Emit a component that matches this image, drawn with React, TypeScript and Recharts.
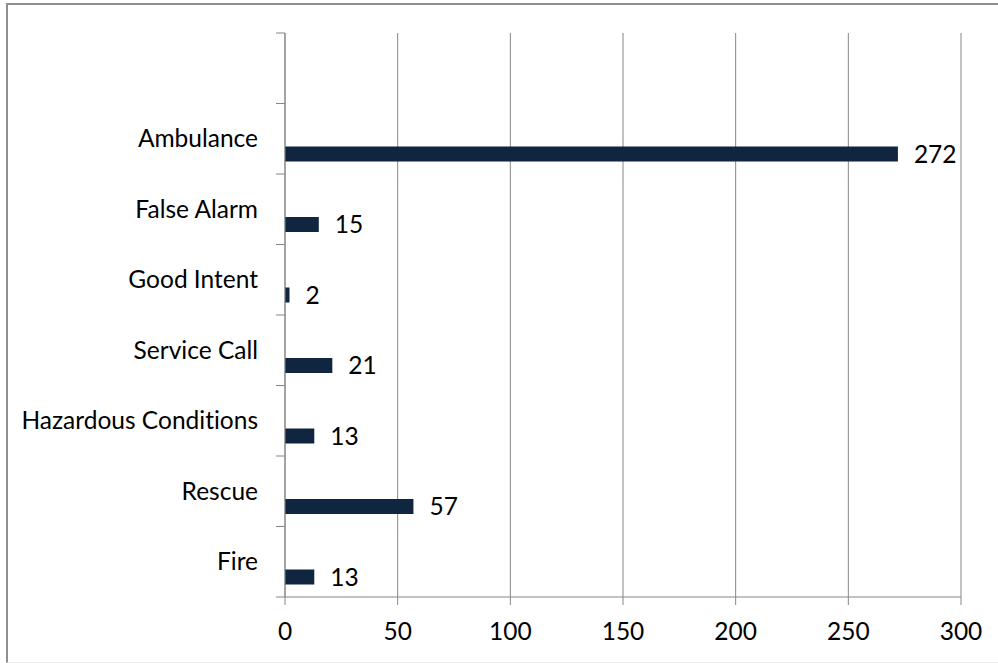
import React from 'react';
import { BarChart, Bar, XAxis, YAxis, CartesianGrid, LabelList } from 'recharts';

// top row is an empty category, as in the original sheet
const categories = [
  '',
  'Ambulance',
  'False Alarm',
  'Good Intent',
  'Service Call',
  'Hazardous Conditions',
  'Rescue',
  'Fire',
];
const incidents = [null, 272, 15, 2, 21, 13, 57, 13];
const valueTicks = [0, 50, 100, 150, 200, 250, 300];

const data = categories.map((name, i) => ({ name, incidents: incidents[i] }));

const WIDTH = 998;
const HEIGHT = 663;
const PLOT_TOP = 33;
const PLOT_BOTTOM = 597;
const AXIS_GRAY = '#868686';
const BAR_COLOR = '#10253f';
const FONT = "Lato, 'Liberation Sans', sans-serif";
const FONT_SIZE = 24.5;
const halfBand = (PLOT_BOTTOM - PLOT_TOP) / categories.length / 2;

// label centred in the band, tick marks on the band edges
const CategoryTick = (props: any) => {
  const { x, y, payload, index } = props;
  const isLast = index === categories.length - 1;
  return (
    <g>
      <line x1={x - 9} x2={x} y1={y - halfBand} y2={y - halfBand} stroke={AXIS_GRAY} />
      {isLast && <line x1={x - 9} x2={x} y1={y + halfBand} y2={y + halfBand} stroke={AXIS_GRAY} />}
      <text
        x={x - 27}
        y={y}
        dy="0.35em"
        textAnchor="end"
        fill="#000"
        fontSize={FONT_SIZE}
        fontFamily={FONT}
      >
        {payload.value}
      </text>
    </g>
  );
};

export default function App() {
  return (
    <div
      style={{
        position: 'absolute',
        left: 0,
        top: 0,
        width: WIDTH,
        height: HEIGHT,
        overflow: 'hidden',
        background: '#fff',
        fontFamily: FONT,
        fontVariantLigatures: 'none',
      }}
    >
      <div
        style={{
          position: 'absolute',
          left: 6,
          top: 3,
          width: 1010,
          height: 660,
          boxSizing: 'border-box',
          borderLeft: '2px solid #8f8f8f',
          borderTop: '2px solid #8f8f8f',
          borderBottom: '1px solid #ececec',
        }}
      />
      <div style={{ position: 'absolute', left: 0, top: 0 }}>
        <BarChart
          width={WIDTH}
          height={HEIGHT}
          data={data}
          layout="vertical"
          margin={{ top: PLOT_TOP, right: 37, bottom: 0, left: 0 }}
          barSize={15}
          barGap={16}
        >
          <CartesianGrid horizontal={false} stroke={AXIS_GRAY} />
          <XAxis
            type="number"
            domain={[0, 300]}
            ticks={valueTicks}
            interval={0}
            height={HEIGHT - PLOT_BOTTOM}
            stroke={AXIS_GRAY}
            tickSize={8}
            tickMargin={18}
            tick={{ fill: '#000', fontSize: FONT_SIZE, fontFamily: FONT }}
          />
          <YAxis
            type="category"
            dataKey="name"
            width={285}
            interval={0}
            stroke={AXIS_GRAY}
            tickLine={false}
            tickSize={0}
            tickMargin={0}
            tick={<CategoryTick />}
          />
          {/* empty second series, pushes the real bars to the lower half of each band */}
          <Bar dataKey="spacer" fill="none" isAnimationActive={false} />
          <Bar dataKey="incidents" fill={BAR_COLOR} isAnimationActive={false}>
            <LabelList
              dataKey="incidents"
              position="right"
              offset={16}
              fill="#000"
              fontSize={FONT_SIZE}
              fontFamily={FONT}
            />
          </Bar>
        </BarChart>
      </div>
    </div>
  );
}
